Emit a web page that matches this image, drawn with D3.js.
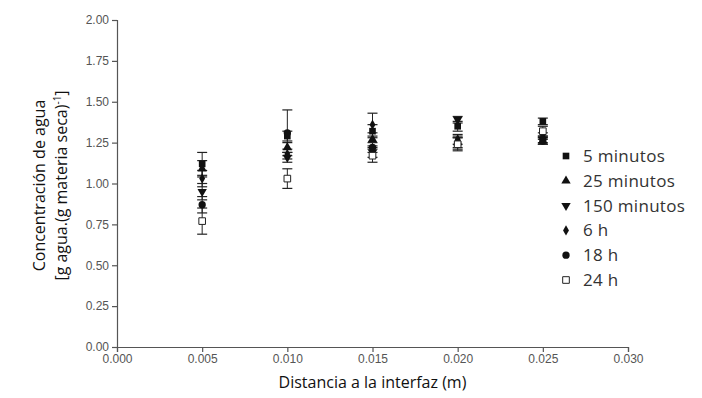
<!DOCTYPE html>
<html>
<head>
<meta charset="utf-8">
<script src="https://cdn.jsdelivr.net/npm/d3@7"></script>
<style>
  body { margin: 0; background: #fff; }
  svg { display: block; }
</style>
</head>
<body>
<div id="chart"></div>
<script>
// distances (m)
const distances = [0.005, 0.010, 0.015, 0.020, 0.025];
const seriesNames = ['5 minutos', '25 minutos', '150 minutos', '6 h', '18 h', '24 h'];

// water concentration per series, and its error (SD)
const min5 = [1.12, 1.29, 1.32, 1.35, 1.38];
const min5Err = [0.07, 0.03, 0.04, 0.03, 0.02];
const min25 = [1.09, 1.22, 1.27, 1.25, 1.26];
const min25Err = [0.05, 0.03, 0.04, 0.03, 0.02];
const min150 = [0.95, 1.16, 1.19, 1.39, 1.27];
const min150Err = [0.05, 0.03, 0.03, 0.02, 0.02];
const h6 = [1.03, 1.18, 1.36, 1.27, 1.29];
const h6Err = [0.05, 0.03, 0.07, 0.03, 0.02];
const h18 = [0.87, 1.31, 1.22, 1.25, 1.26];
const h18Err = [0.05, 0.14, 0.03, 0.04, 0.02];
const h24 = [0.77, 1.03, 1.17, 1.24, 1.32];
const h24Err = [0.08, 0.06, 0.04, 0.04, 0.03];

const xTicks = [0, 0.005, 0.010, 0.015, 0.020, 0.025, 0.030];
const yTicks = [0, 0.25, 0.5, 0.75, 1.0, 1.25, 1.5, 1.75, 2.0];

const values = [min5, min25, min150, h6, h18, h24];
const errors = [min5Err, min25Err, min150Err, h6Err, h18Err, h24Err];
const symbols = [d3.symbolSquare, d3.symbolTriangle, 'down', d3.symbolDiamond, d3.symbolCircle, 'open'];

const width = 702, height = 398;
const margin = { top: 20, right: 74, bottom: 51, left: 117 };

const svg = d3.select('#chart').append('svg')
  .attr('width', width)
  .attr('height', height);

const x = d3.scaleLinear().domain([0, 0.030]).range([margin.left, width - margin.right]);
const y = d3.scaleLinear().domain([0, 2.0]).range([height - margin.bottom, margin.top]);

const axisColor = '#555';
const tickFont = '12px "Liberation Sans", Arial, sans-serif';

const xAxis = svg.append('g')
  .attr('transform', `translate(0,${y(0)})`)
  .call(d3.axisBottom(x).tickValues(xTicks).tickFormat(d3.format('.3f')).tickSize(5).tickPadding(2));

const yAxis = svg.append('g')
  .attr('transform', `translate(${x(0)},0)`)
  .call(d3.axisLeft(y).tickValues(yTicks).tickFormat(d3.format('.2f')).tickSize(5).tickPadding(3));

[xAxis, yAxis].forEach(a => {
  a.select('.domain').attr('stroke', axisColor).attr('stroke-width', 1.2);
  a.selectAll('.tick line').attr('stroke', axisColor).attr('stroke-width', 1.2);
  a.selectAll('.tick text').attr('fill', '#555').style('font', tickFont);
});

const labelFont = '16px "Open Sans", "Noto Sans", sans-serif';

svg.append('text')
  .attr('x', (x(0) + x(0.030)) / 2)
  .attr('y', 388)
  .attr('text-anchor', 'middle')
  .attr('fill', '#111')
  .style('font', labelFont)
  .text('Distancia a la interfaz (m)');

const yLabel = svg.append('text')
  .attr('transform', `translate(45,${(y(0) + y(2)) / 2 + 2}) rotate(-90)`)
  .attr('text-anchor', 'middle')
  .attr('fill', '#111')
  .style('font', labelFont);
yLabel.append('tspan').attr('x', 0).attr('dy', 0).text('Concentración de agua');
const line2 = yLabel.append('tspan').attr('x', 0).attr('dy', 22).text('[g agua.(g materia seca)');
line2.append('tspan').attr('dy', -6).style('font-size', '10px').text('-1');
line2.append('tspan').attr('dy', 6).text(']');

function symbolPath(sym, size) {
  if (sym === 'down') return d3.symbol(d3.symbolTriangle, size)();
  if (sym === 'open') return d3.symbol(d3.symbolSquare, size)();
  return d3.symbol(sym, size)();
}

function drawMarker(g, sym, cx, cy, size) {
  const p = g.append('path')
    .attr('d', symbolPath(sym, size))
    .attr('transform', `translate(${cx},${cy})` + (sym === 'down' ? ' rotate(180)' : ''));
  if (sym === 'open') {
    p.attr('fill', '#fff').attr('stroke', '#222').attr('stroke-width', 1);
  } else {
    p.attr('fill', '#111');
  }
}

const markerSizes = [44, 38, 38, 30, 42, 44];

// error bars
const errG = svg.append('g');
values.forEach((vals, s) => {
  vals.forEach((v, i) => {
    const cx = x(distances[i]);
    const e = errors[s][i];
    errG.append('line')
      .attr('x1', cx).attr('x2', cx)
      .attr('y1', y(v - e)).attr('y2', y(v + e))
      .attr('stroke', '#222').attr('stroke-width', 1);
    [v - e, v + e].forEach(t => {
      errG.append('line')
        .attr('x1', cx - 5).attr('x2', cx + 5)
        .attr('y1', y(t)).attr('y2', y(t))
        .attr('stroke', '#222').attr('stroke-width', 1.2);
    });
  });
});

// markers
const markG = svg.append('g');
values.forEach((vals, s) => {
  vals.forEach((v, i) => {
    drawMarker(markG, symbols[s], x(distances[i]), y(v), markerSizes[s]);
  });
});

// legend
const legend = svg.append('g');
seriesNames.forEach((name, s) => {
  const ly = 156 + s * 24.8;
  drawMarker(legend, symbols[s], 566, ly, markerSizes[s]);
  legend.append('text')
    .attr('x', 583)
    .attr('y', ly + 6)
    .attr('fill', '#333')
    .style('font', '17px "Open Sans", "Noto Sans", sans-serif')
    .style('letter-spacing', '0.3px')
    .text(name);
});
</script>
</body>
</html>
